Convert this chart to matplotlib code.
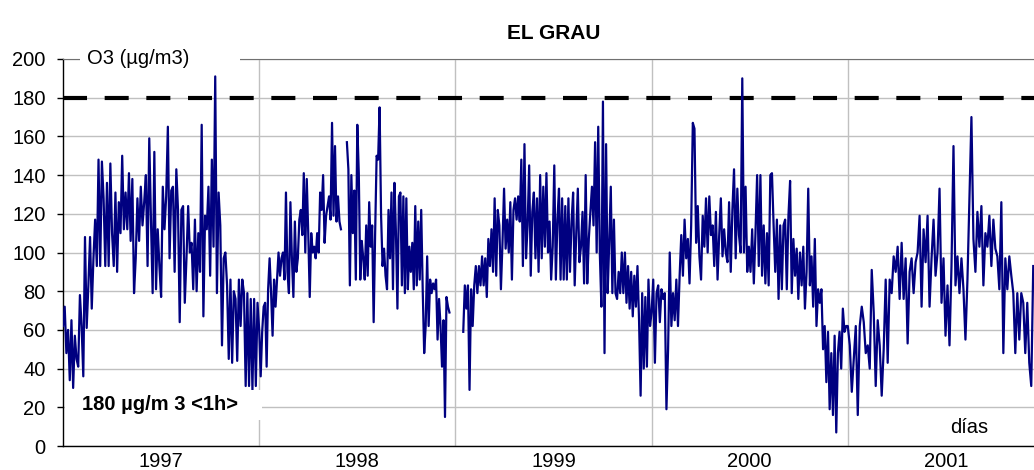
import numpy as np
import matplotlib
matplotlib.use("Agg")
import matplotlib.pyplot as plt
from matplotlib.patches import Rectangle

nan = np.nan

# daily O3 (ug/m3), one list per year (nan = missing days)
years = [1997, 1998, 1999, 2000, 2001]
year_labels = ["1997", "1998", "1999", "2000", "2001"]

o3_1997 = [62, 72, 48, 60, 34, 65, 30, 57, 45, 41, 78, 62, 36, 108, 61, 83, 108, 71, 97, 117,
           93, 148, 93, 147, 128, 93, 136, 93, 146, 110, 93, 131, 90, 126, 110, 150, 112, 131, 112, 141,
           106, 138, 79, 97, 128, 106, 134, 114, 126, 140, 93, 159, 117, 79, 152, 81, 112, 93, 77, 134,
           112, 129, 165, 97, 132, 134, 90, 143, 122, 64, 122, 124, 74, 97, 124, 100, 105, 81, 117, 80,
           110, 90, 166, 67, 119, 112, 134, 88, 148, 103, 191, 79, 131, 114, 52, 97, 100, 83, 45, 86,
           43, 80, 76, 44, 86, 62, 86, 79, 31, 79, 31, 76, 29, 76, 31, 74]

o3_1998 = [60, 36, 59, 72, 74, 41, 81, 97, 79, 57, 86, 72, 86, 100, 88, 97, 100, 86, 131, 90,
           79, 126, 97, 77, 116, 90, 97, 117, 122, 109, 141, 100, 138, 110, 77, 110, 100, 103, 97, 110,
           100, 131, 122, 140, 105, 119, 124, 129, 117, 167, 119, 155, 116, 129, 116, 112, nan, nan, nan,
           157, 143, 83, 140, 110, 132, 86, 166, 141, 86, 106, 97, 86, 114, 88, 126,
           103, 114, 64, 110, 150, 148, 175, 119, 93, 102, 88, 81, 122, 97, 131, 81, 136, 110, 71, 129,
           131, 83, 129, 79, 128, 81, 103, 90, 105, 81, 124, 83, 116, 86, 122, 81, 48, 62, 98, 62,
           86, 79, 84, 81, 86, 55, 76, 62, 41, 65, 15, 77, 72, 69, nan, nan, nan]

o3_1999 = [nan, nan, nan, nan, nan, 59, 83, 71, 83, 29, 81, 62, 83, 93, 79, 93, 83, 98, 83, 97,
           77, 107, 93, 112, 90, 128, 88, 122, 114, 81, 105, 133, 102, 117, 100, 126, 86, 122, 128, 117,
           129, 116, 148, 93, 156, 97, 114, 145, 88, 121, 131, 97, 128, 90, 140, 97, 134, 103, 141, 100,
           116, 86, 103, 145, 86, 117, 133, 86, 128, 86, 124, 86,
           128, 90, 116, 131, 83, 110, 133, 95, 103, 121, 84, 140, 84, 107, 121, 134, 114, 157, 100, 165,
           100, 72, 178, 48, 156, 79, 105, 134, 79, 117, 79, 76, 90, 79, 100, 79, 100, 74, 93, 71,
           90, 67, 88, 72, 93, 65, 26, 79, 40, 77, 41, 86, 62]

o3_2000 = [69, 86, 43, 79, 83, 64, 81, 76, 79, 19,
           50, 100, 62, 79, 65, 86, 62, 88, 109, 88, 117, 97, 107, 84, 114, 167, 164, 105, 124, 98,
           86, 119, 103, 128, 100, 129, 109, 114, 93, 121, 86, 109, 128, 98, 112, 100, 95, 126, 90, 122,
           143, 97, 133, 109, 100, 190, 100, 134, 90, 103, 90, 112, 84, 110, 140, 93, 140, 88, 114, 84,
           110, 83, 140,
           141, 114, 90, 117, 76, 114, 81, 114, 117, 81, 119, 137, 79, 107, 88, 102, 76, 100, 83, 103,
           71, 90, 133, 83, 98, 72, 107, 62, 81, 74, 81, 50, 62, 33, 59, 19, 48, 16, 57, 7,
           48, 59, 40, 71, 59, 62]

o3_2001 = [62, 52, 28, 45, 62, 16, 62, 72, 64, 48,
           52, 40, 91, 69, 31, 65, 52, 26, 50, 86, 43, 86, 79, 98, 90, 103, 76, 105, 76, 97,
           53, 90, 97, 79, 95, 100, 119, 72, 112, 95, 119, 72, 97, 117, 88, 100, 133, 74, 97, 57,
           83, 52, 93, 155, 83, 98, 79, 97,
           81, 55, 86, 128, 170, 107, 90, 121, 103, 124, 83, 110, 103, 119, 93, 117, 102, 98, 81, 126,
           48, 97, 81, 98, 88, 79, 48, 79, 55, 79, 74, 48, 74, 43, 31, 93]

series = [o3_1997, o3_1998, o3_1999, o3_2000, o3_2001]
days_shown_2001 = 345   # chart is cut off in December 2001
limit = 180             # 180 ug/m3 hourly threshold

x = []
y = []
for yr, vals in zip(years, series):
    if yr == years[-1]:
        frac = np.linspace(0, days_shown_2001 / 365, len(vals))
    else:
        frac = np.arange(len(vals)) / len(vals)
    x.extend(yr + frac)
    y.extend(vals)

plt.rcParams['font.family'] = ['Liberation Sans', 'DejaVu Sans']
plt.rcParams['lines.scale_dashes'] = False

fig = plt.figure(figsize=(10.34, 4.70), dpi=100)
ax = fig.add_axes([63 / 1034, 24 / 470, 981 / 1034, 387 / 470])

ax.plot(x, y, color='#000080', lw=1.6, zorder=3)
ax.axhline(limit, color='black', lw=3, linestyle=(0, (17.3, 12.7)), zorder=2)

ax.set_xlim(years[0], years[-1] + 1)
ax.set_ylim(0, 200)

ax.set_yticks(np.arange(0, 201, 20))
ax.tick_params(axis='y', direction='out', length=4.5, width=1, pad=8, labelsize=14.5)
ax.set_xticks(years[1:])
ax.set_xticklabels([])
ax.set_xticks([yr + 0.5 for yr in years], minor=True)
ax.set_xticklabels(year_labels, minor=True)
ax.tick_params(axis='x', which='both', length=0, labelsize=14.5, pad=4)

ax.grid(True, which='major', color='#c0c0c0', lw=1)
ax.set_axisbelow(True)

for side in ['left', 'bottom']:
    ax.spines[side].set_color('black')
    ax.spines[side].set_linewidth(1)
ax.spines['top'].set_color('#707070')
ax.spines['right'].set_visible(False)

# axis title box at the top of the y axis
ax.add_patch(Rectangle((17 / 981, 0.96), 160 / 981, 0.08, transform=ax.transAxes,
                       facecolor='white', edgecolor='none', clip_on=False, zorder=5))
ax.text(24 / 981, 1.0, "O3 (µg/m3)", transform=ax.transAxes, ha='left', va='center',
        fontsize=14.5, zorder=6)

# threshold label box at the bottom left
ax.add_patch(Rectangle((2 / 981, 0.067), 197 / 981, 0.078, transform=ax.transAxes,
                       facecolor='white', edgecolor='none', zorder=5))
ax.text(19 / 981, 0.107, "180 µg/m 3 <1h>", transform=ax.transAxes, ha='left', va='center',
        fontsize=14.5, fontweight='bold', zorder=6)

ax.text(0.904, 0.047, "días", transform=ax.transAxes, ha='left', va='center',
        fontsize=14.5, zorder=6)

ax.text(0.5, 1.067, "EL GRAU", transform=ax.transAxes, ha='center', va='center',
        fontsize=15, fontweight='bold')

plt.savefig("out.png", dpi=100)
